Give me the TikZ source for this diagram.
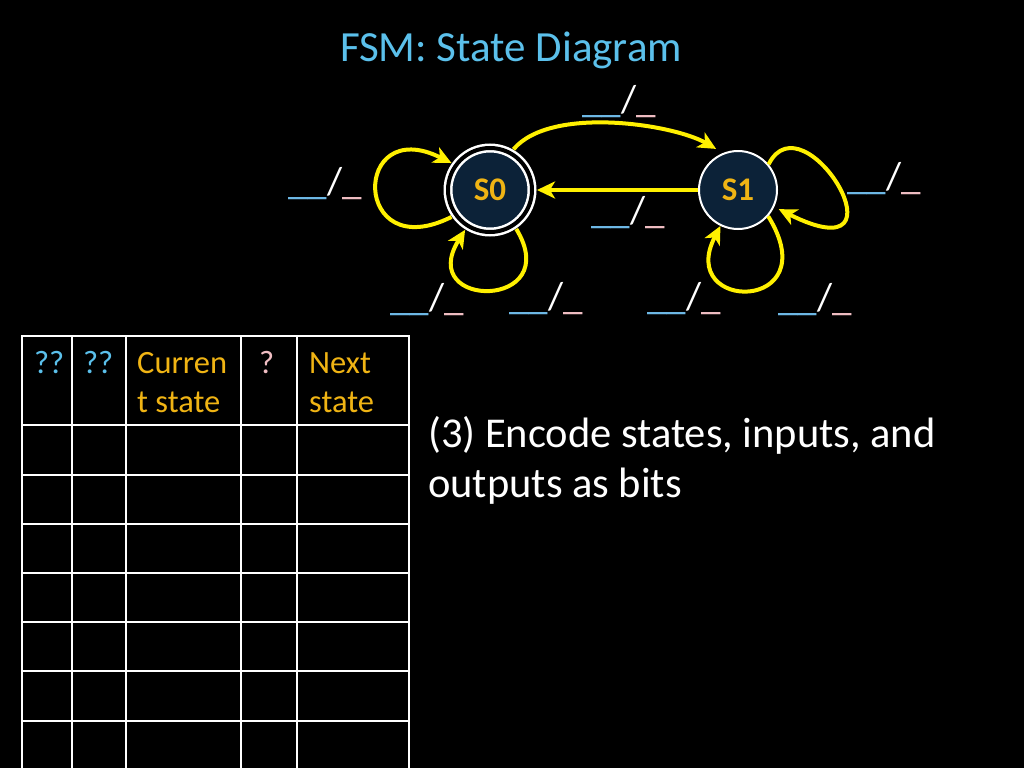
\documentclass[tikz,border=0pt]{standalone}
\usepackage{fontspec}
\setmainfont{Carlito}
\usetikzlibrary{arrows.meta}
\definecolor{ttlblue}{RGB}{91,192,235}
\definecolor{gold}{RGB}{240,180,20}
\definecolor{navy}{RGB}{12,34,56}
\definecolor{arrowyel}{RGB}{255,240,0}
\definecolor{inblue}{RGB}{110,185,230}
\definecolor{outpink}{RGB}{240,190,195}
\tikzset{
  state/.style={circle, draw=white, line width=2pt, fill=navy, minimum size=78pt, inner sep=0pt, outer sep=1pt, text=gold, font=\fontsize{33}{36}\selectfont\bfseries},
  accept/.style={state, double=black, double distance=4pt, line width=2.5pt, minimum size=84pt, outer sep=5pt},
  trans/.style={draw=arrowyel, line width=4pt, -{Stealth[length=18pt,width=17pt,inset=5pt]}},
  lbl/.style={anchor=base west, inner sep=0pt, font=\fontsize{39}{40}\selectfont},
  cell/.style={anchor=base west, inner sep=0pt, font=\fontsize{32.5}{40}\selectfont},
  body/.style={anchor=base west, inner sep=0pt, text=white, font=\fontsize{42.5}{50}\selectfont},
  titlestyle/.style={anchor=base, inner sep=0pt, text=ttlblue, font=\fontsize{43}{50}\selectfont},
  gridline/.style={draw=white, line width=2pt, line cap=rect},
}
\newcommand{\trlabel}{{\color{inblue}\_\_}{\color{white}/}{\color{outpink}\_}}
\begin{document}
\begin{tikzpicture}[x=1pt,y=1pt]
\fill[black] (0,0) rectangle (1024,-768);
\useasboundingbox (0,0) rectangle (1024,-768);

\node[titlestyle] (title) at (511,-61) {FSM: State Diagram};

\node[accept] (s0) at (490,-190) {S0};
\node[state] (s1) at (738,-190) {S1};

% transitions
\draw[trans, shorten >=8pt] (s0.60) to[out=50, in=150, looseness=0.7] (s1.112);
\draw[trans] (s1) -- (s0);
\draw[trans] (s0.215) .. controls +(-100,-50) and +(-100,50) .. (s0.145);
\draw[trans] (s0.304) .. controls +(49,-81) and +(-50,-80) .. (s0.238);
\draw[trans, shorten >=5pt] (s1.40) .. controls +(35,70) and +(140,-70) .. (s1.-25);
\draw[trans] (s1.-41) .. controls +(60,-97) and +(-45,-87) .. (s1.244);

% transition labels
\node[lbl] (l1) at (582,-112) {\trlabel};
\node[lbl] (l2) at (288,-194) {\trlabel};
\node[lbl] (l3) at (591,-223) {\trlabel};
\node[lbl] (l4) at (847,-189) {\trlabel};
\node[lbl] (l5) at (390,-310) {\trlabel};
\node[lbl] (l6) at (509,-309) {\trlabel};
\node[lbl] (l7) at (647,-309) {\trlabel};
\node[lbl] (l8) at (778,-310) {\trlabel};

% table
\foreach \x in {22,72,126,241,297,409} \draw[gridline] (\x,-336) -- (\x,-770);
\foreach \y in {336,425,475,524,573,622,671,721} \draw[gridline] (22,-\y) -- (409,-\y);

\node[cell, text=ttlblue] (c1) at (34,-373) {??};
\node[cell, text=ttlblue] (c2) at (83,-373) {??};
\node[cell, text=gold] (c3) at (137,-373) {Curren};
\node[cell, text=gold] (c3b) at (137,-412) {t state};
\node[cell, text=outpink] (c4) at (259,-373) {?};
\node[cell, text=gold] (c5) at (309,-373) {Next};
\node[cell, text=gold] (c5b) at (309,-412) {state};

\node[body] (enc1) at (428,-447) {(3) Encode states, inputs, and};
\node[body] (enc2) at (428,-497) {outputs as bits};
\end{tikzpicture}
\end{document}
